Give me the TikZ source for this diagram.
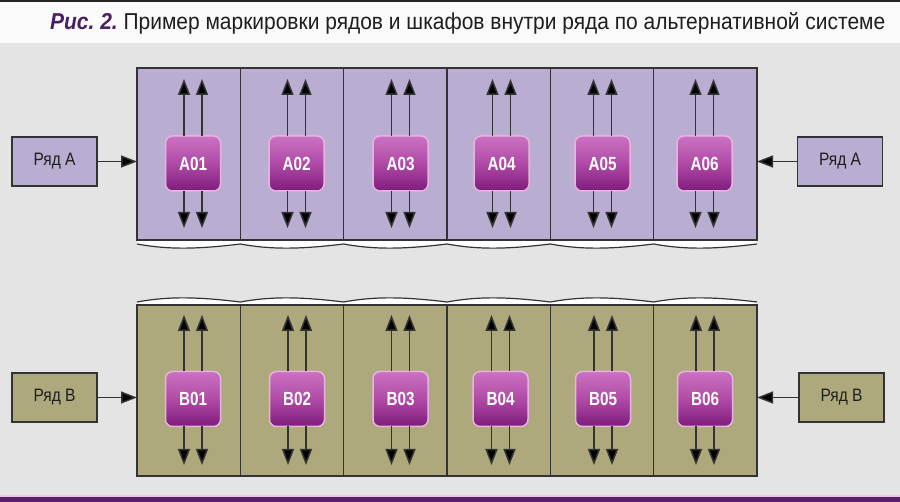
\documentclass[tikz,border=0pt]{standalone}
\usepackage{fontspec}
\setmainfont{Liberation Sans}
\usepackage{graphicx}
\usetikzlibrary{arrows.meta}
\definecolor{bg}{HTML}{E4E4E4}
\definecolor{titleband}{HTML}{FAFAFA}
\definecolor{rowA}{HTML}{B9ADD1}
\definecolor{rowB}{HTML}{ADA97C}
\definecolor{boxtop}{HTML}{CB72C2}
\definecolor{boxmid}{HTML}{B04AA6}
\definecolor{boxbot}{HTML}{7E1C7C}
\definecolor{glow}{HTML}{E6B4DE}
\definecolor{titlepurple}{HTML}{4A1F62}
\definecolor{barpurple}{HTML}{5C1D6E}
\definecolor{barpink}{HTML}{E9C8E6}
\definecolor{edge}{HTML}{333333}
\definecolor{txt}{HTML}{1E1E1E}
\begin{document}
\begin{tikzpicture}[x=1pt,y=-1pt,
  cellbox/.style={draw=edge, line width=1.1pt, inner sep=0pt, outer sep=0pt,
    minimum width=103.333pt},
  cellA/.style={cellbox, fill=rowA, minimum height=172pt},
  cellB/.style={cellbox, fill=rowB, minimum height=171pt},
  lblbox/.style={draw=edge, line width=1.1pt, inner sep=0pt, outer sep=0pt,
    minimum width=85pt, minimum height=49pt, text=txt},
  lblA/.style={lblbox, fill=rowA},
  lblB/.style={lblbox, fill=rowB},
  cab/.style={rounded corners=7pt, draw=glow, line width=1.5pt,
    top color=boxtop, bottom color=boxbot, middle color=boxmid,
    minimum width=55pt, minimum height=55pt, inner sep=0pt, outer sep=0pt, text=white},
  arr/.style={draw=edge, line width=1.5pt, -{Triangle[length=16pt,width=12pt,fill=black]}},
  wave/.style={draw=edge, line width=1.2pt}
]
\useasboundingbox (0,0) rectangle (900,502);
% background
\fill[bg] (0,0) rectangle (900,502);
\fill[titleband] (0,0) rectangle (900,43);
\fill[black!85] (0,0) rectangle (900,1.8);
\fill[barpink] (0,494.5) rectangle (900,497);
\fill[barpurple] (0,497) rectangle (900,502);

% title
\node[anchor=base west, inner sep=0pt] (title) at (50,30)
  {\resizebox{835pt}{\height}{\fontsize{23}{23}\selectfont\textcolor{titlepurple}{\bfseries\itshape Рис.~2.}\ \textcolor{txt}{Пример маркировки рядов и шкафов внутри ряда по альтернативной системе}}};

% wavy edges
\path[fill=white] (137,240) -- (137,244)
  \foreach \i in {1,...,6}{ .. controls ({137+103.333*(\i-1)+30},249.5) and ({137+103.333*\i-45},249.5) .. ({137+103.333*\i},244) }
  -- (757,240) -- cycle;
\path[wave] (137,244)
  \foreach \i in {1,...,6}{ .. controls ({137+103.333*(\i-1)+30},249.5) and ({137+103.333*\i-45},249.5) .. ({137+103.333*\i},244) };
\path[fill=white] (137,305) -- (137,302)
  \foreach \i in {1,...,6}{ .. controls ({137+103.333*(\i-1)+30},296.5) and ({137+103.333*\i-45},296.5) .. ({137+103.333*\i},302) }
  -- (757,305) -- cycle;
\path[wave] (137,302)
  \foreach \i in {1,...,6}{ .. controls ({137+103.333*(\i-1)+30},296.5) and ({137+103.333*\i-45},296.5) .. ({137+103.333*\i},302) };

% rows of cells
\foreach \i in {1,...,6}{
  \node[cellA] (a\i) at ({137+103.333*(\i-0.5)},154) {};
  \node[cellB] (b\i) at ({137+103.333*(\i-0.5)},390.5) {};
}

% cabinets and arrows, row A
\foreach \i/\x in {1/193,2/296.5,3/400.5,4/501.5,5/602.5,6/704.5}{
  \node[cab] (A\i) at (\x,163.5) {\resizebox{28pt}{\height}{\fontsize{19}{19}\selectfont\bfseries A0\i}};
  \coordinate (Aul\i) at ({\x-9},79);
  \coordinate (Aur\i) at ({\x+9},79);
  \coordinate (Adl\i) at ({\x-9},228);
  \coordinate (Adr\i) at ({\x+9},228);
  \draw[arr] ([xshift=-9pt]A\i.north) -- (Aul\i);
  \draw[arr] ([xshift=9pt]A\i.north) -- (Aur\i);
  \draw[arr] ([xshift=-9pt]A\i.south) -- (Adl\i);
  \draw[arr] ([xshift=9pt]A\i.south) -- (Adr\i);
}
% cabinets and arrows, row B
\foreach \i/\x in {1/193,2/297,3/400.5,4/500.5,5/603,6/705}{
  \node[cab] (B\i) at (\x,399) {\resizebox{28pt}{\height}{\fontsize{19}{19}\selectfont\bfseries B0\i}};
  \coordinate (Bul\i) at ({\x-9},315);
  \coordinate (Bur\i) at ({\x+9},315);
  \coordinate (Bdl\i) at ({\x-9},465);
  \coordinate (Bdr\i) at ({\x+9},465);
  \draw[arr] ([xshift=-9pt]B\i.north) -- (Bul\i);
  \draw[arr] ([xshift=9pt]B\i.north) -- (Bur\i);
  \draw[arr] ([xshift=-9pt]B\i.south) -- (Bdl\i);
  \draw[arr] ([xshift=9pt]B\i.south) -- (Bdr\i);
}

% row labels
\node[lblA] (LA) at (54.5,161.5) {\resizebox{42pt}{\height}{\fontsize{18}{18}\selectfont Ряд A}};
\node[lblA] (RA) at (840,161.5) {\resizebox{42pt}{\height}{\fontsize{18}{18}\selectfont Ряд A}};
\node[lblB] (LB) at (54.5,397.5) {\resizebox{42pt}{\height}{\fontsize{18}{18}\selectfont Ряд B}};
\node[lblB] (RB) at (841.5,397.5) {\resizebox{42pt}{\height}{\fontsize{18}{18}\selectfont Ряд B}};
\draw[arr] (LA.east) -- (LA.east -| a1.west);
\draw[arr] (RA.west) -- (RA.west -| a6.east);
\draw[arr] (LB.east) -- (LB.east -| b1.west);
\draw[arr] (RB.west) -- (RB.west -| b6.east);
\end{tikzpicture}
\end{document}
